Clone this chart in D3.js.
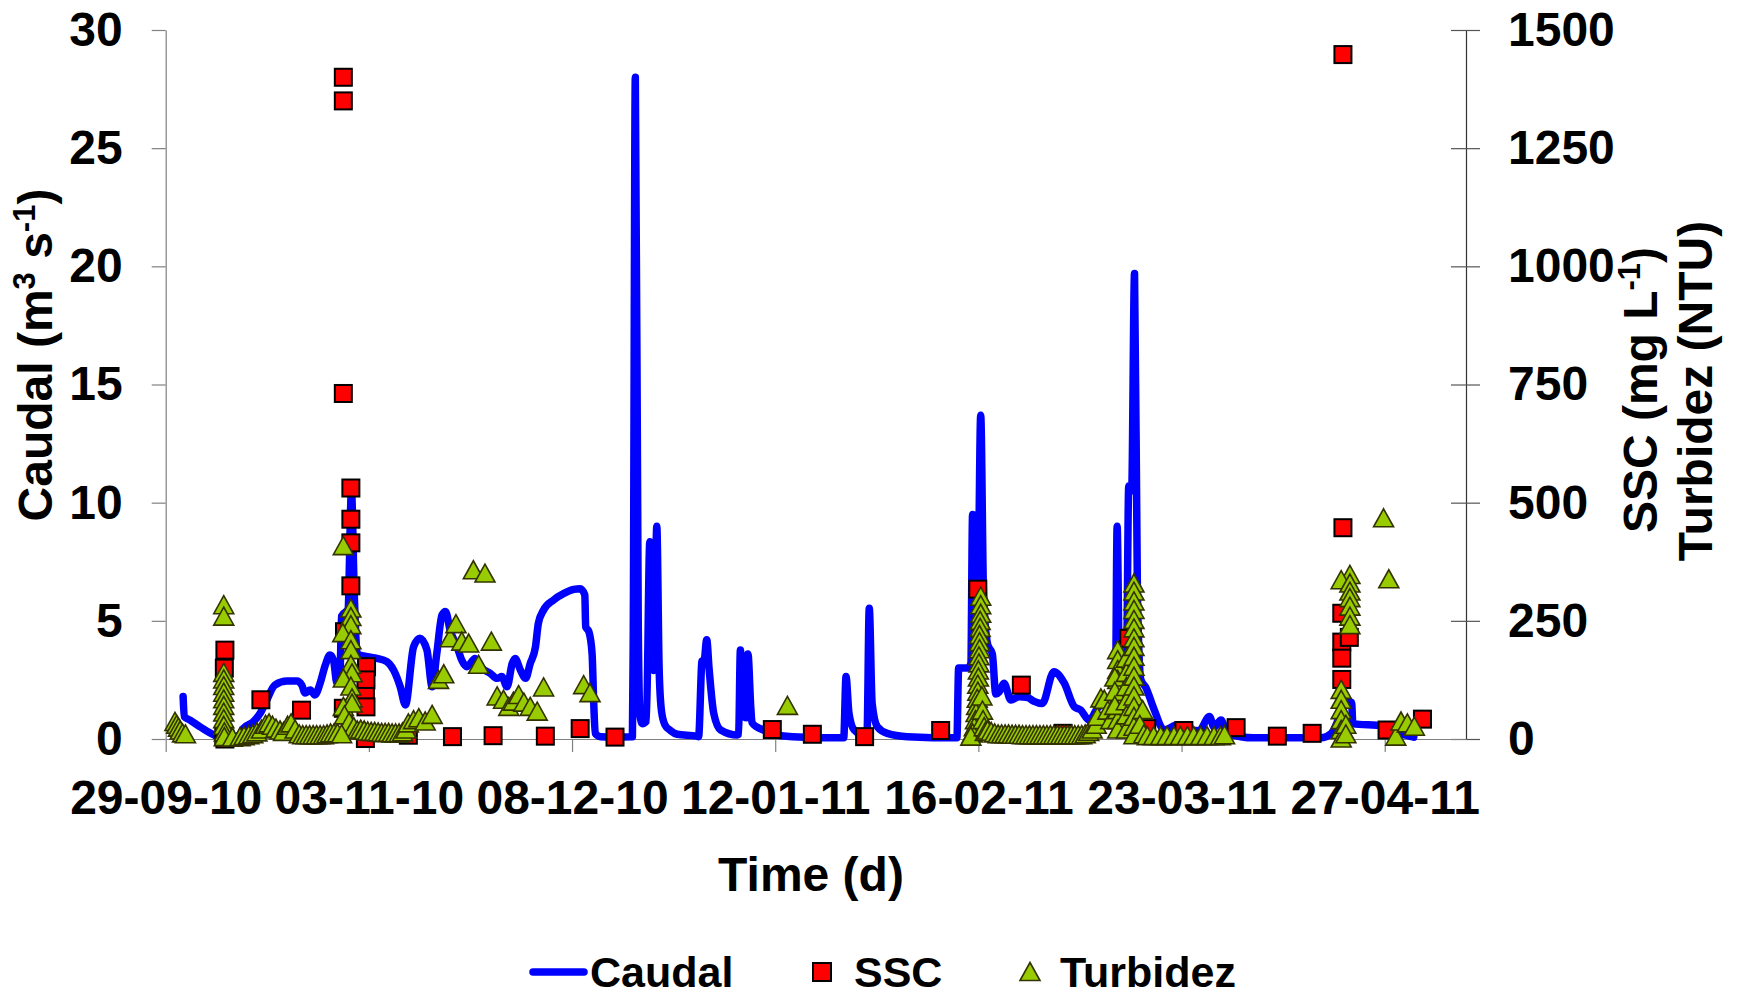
<!DOCTYPE html>
<html>
<head>
<meta charset="utf-8">
<script src="https://cdn.jsdelivr.net/npm/d3@7"></script>
<style>
  html, body { margin: 0; padding: 0; background: #ffffff; }
  svg text { font-family: Arial, 'Liberation Sans', sans-serif; font-weight: bold; fill: #000; }
</style>
</head>
<body>
<div id="chart"></div>
<script>
// Caudal, SSC and Turbidez chart (day 0 = 29-09-10)

const startDate = '29-09-10';
const endDate = '11-05-11';
const tickLabels = ['29-09-10', '03-11-10', '08-12-10', '12-01-11', '16-02-11', '23-03-11', '27-04-11'];
const caudalTicks = [0, 5, 10, 15, 20, 25, 30];
const sscTicks = [0, 250, 500, 750, 1000, 1250, 1500];

// Caudal (m3 s-1): [day, value]
const caudal = [
  [3.0, 1.8], [3.2, 0.95], [4.2, 0.8], [6.0, 0.5], [8.5, 0.15], [10.0, 0.05], [11.5, 0.05],
  [12.8, 0.2], [13.4, 0.45], [15.1, 0.73], [16.3, 1.1], [17.4, 1.65], [18.8, 2.28], [20.9, 2.45],
  [22.6, 2.45], [23.45, 2.28], [24.0, 1.95], [24.9, 2.07], [25.7, 1.86], [26.6, 2.36], [27.5, 3.13],
  [28.3, 3.55], [28.9, 3.34], [29.5, 2.36], [30.0, 2.5], [30.3, 5.2], [31.4, 5.5], [32.0, 10.5],
  [32.5, 6.0], [33.0, 3.6], [34.7, 3.48], [36.4, 3.41], [38.1, 3.27], [39.25, 2.92], [40.4, 2.21],
  [41.3, 1.44], [42.7, 3.9], [43.8, 4.26], [45.0, 3.77], [45.9, 2.21], [46.7, 3.62], [47.6, 5.25],
  [48.2, 5.4], [49.0, 4.6], [50.2, 3.9], [51.0, 3.34], [51.9, 3.06], [53.3, 3.41], [54.5, 2.99],
  [55.9, 2.78], [57.1, 2.57], [57.9, 2.64], [58.8, 2.21], [59.7, 3.2], [60.2, 3.41], [61.1, 2.92],
  [62.0, 2.57], [62.8, 3.2], [63.7, 3.9], [64.2, 4.9], [65.1, 5.46], [66.8, 5.88], [68.6, 6.16],
  [70.3, 6.33], [71.4, 6.36], [72.2, 6.1], [72.35, 4.75], [72.9, 4.54], [73.45, 3.62], [73.74, 1.5],
  [74.0, 0.24], [74.9, 0.1], [77.0, 0.08], [80.4, 0.1], [80.55, 4.7], [80.9, 28.0], [81.4, 5.0],
  [81.7, 1.0], [82.1, 0.65], [82.8, 0.75], [83.4, 8.35], [83.8, 3.0], [84.1, 2.9], [84.6, 9.0],
  [85.0, 3.0], [85.4, 1.2], [86.0, 0.6], [87.0, 0.35], [88.1, 0.2], [91.5, 0.12], [91.8, 0.1],
  [92.4, 3.3], [92.7, 3.2], [93.2, 4.2], [93.6, 3.0], [94.4, 1.1], [95.6, 0.38], [98.45, 0.17],
  [98.7, 0.2], [99.0, 3.77], [99.4, 1.0], [100.0, 0.9], [100.3, 3.6], [100.8, 1.3], [101.0, 0.7],
  [101.9, 0.5], [103.0, 0.38], [104.5, 0.2], [108.0, 0.1], [116.8, 0.05], [117.2, 2.64], [117.7, 1.1],
  [118.6, 0.38], [120.8, 0.1], [121.2, 5.53], [121.7, 1.5], [122.6, 0.52], [124.3, 0.24], [127.8, 0.1],
  [136.3, 0.05], [136.6, 3.0], [138.2, 3.0], [138.7, 3.2], [139.0, 9.5], [139.7, 9.3], [139.9, 6.0],
  [140.4, 13.7], [140.9, 6.0], [141.6, 4.0], [142.4, 3.6], [143.0, 1.9], [143.6, 2.0], [144.4, 2.36],
  [145.6, 1.65], [147.0, 1.79], [148.5, 1.75], [149.5, 1.6], [151.0, 1.5], [153.0, 2.85], [154.8, 2.36],
  [156.5, 1.37], [157.6, 1.23], [159.1, 0.8], [160.5, 1.3], [162.0, 1.6], [163.6, 1.8], [163.9, 9.0],
  [164.3, 3.0], [165.5, 3.0], [165.9, 10.7], [166.4, 10.5], [166.9, 19.7], [167.4, 6.0], [168.0, 2.5],
  [168.8, 2.2], [170.3, 1.23], [172.0, 0.38], [174.3, 0.6], [175.5, 0.4], [178.0, 0.35], [179.8, 0.95],
  [180.6, 0.5], [181.8, 0.8], [182.9, 0.24], [187.5, 0.05], [199.0, 0.05], [200.8, 0.24], [202.5, 1.1],
  [203.6, 1.6], [204.3, 1.55], [204.5, 0.65], [209.7, 0.55], [213.0, 0.2], [215.0, 0.08]
];

// SSC (mg L-1): [day, value]
const ssc = [
  [10.2, 188], [10.1, 150], [10.0, 5], [10.2, 0], [16.4, 83], [23.4, 61],
  [30.6, 1400], [30.6, 1350], [30.6, 731], [31.9, 531], [31.9, 465], [31.9, 415], [31.9, 324],
  [30.8, 227], [30.6, 65], [34.6, 153], [34.5, 125], [34.4, 90], [34.5, 68], [34.4, 1],
  [41.8, 8], [49.4, 5], [56.4, 7], [65.4, 6], [71.4, 22], [77.4, 4], [104.5, 20], [111.4, 10],
  [120.4, 5], [133.5, 18], [139.9, 317], [147.4, 114], [154.6, 12], [165.9, 213], [169.0, 22],
  [175.4, 18], [184.4, 24], [191.5, 6], [197.5, 12],
  [202.8, 1448], [202.8, 447], [202.6, 266], [202.6, 205], [203.9, 215], [202.6, 171], [202.6, 126],
  [210.4, 19], [216.5, 42]
];

// Turbidez (NTU): [day, value]
const turbidez = [
  [1.6, 36], [1.9, 30], [2.2, 24], [2.5, 18], [2.9, 12], [3.4, 10],
  [10.0, 283], [10.0, 259], [10.0, 140], [10.0, 126], [10.0, 112], [10.0, 98], [10.0, 84], [10.0, 70],
  [10.0, 56], [10.0, 42], [10.0, 28], [10.1, 14], [10.1, 4],
  [11.5, 3], [12.8, 4], [13.5, 6], [14.3, 8], [15.0, 10], [15.7, 14], [16.5, 20], [17.2, 30], [17.8, 33],
  [18.4, 28], [19.0, 22], [19.7, 18], [20.3, 15], [21.0, 28], [21.6, 33], [22.3, 20], [23.0, 10],
  [23.6, 8], [24.2, 8], [24.8, 8], [25.4, 8], [26.0, 8], [26.6, 8], [27.2, 8], [27.8, 10], [28.4, 12],
  [29.0, 12], [29.6, 12],
  [30.6, 408], [31.9, 276], [31.9, 258], [31.9, 241], [30.5, 224], [31.9, 209], [31.9, 188], [31.9, 157],
  [32.1, 139], [30.6, 128], [31.9, 111], [32.1, 86], [30.6, 68], [32.1, 75], [30.8, 50], [31.6, 35],
  [32.4, 25], [33.0, 18], [30.3, 10],
  [33.6, 20], [34.2, 18], [34.8, 16], [35.4, 15], [36.0, 15], [36.6, 14], [37.2, 13], [37.8, 13],
  [38.4, 13], [39.0, 12], [39.6, 12], [40.2, 12], [40.8, 14], [41.4, 20], [41.8, 33], [42.7, 40],
  [43.6, 44], [44.7, 37], [45.9, 51],
  [47.0, 125], [47.9, 137], [49.0, 213], [50.0, 243], [51.0, 206], [52.2, 202], [53.0, 357], [55.0, 350],
  [53.9, 157], [56.1, 206], [57.1, 90], [58.2, 83], [59.1, 68], [59.9, 79], [60.8, 93], [61.7, 77],
  [62.8, 68], [64.0, 58], [65.1, 109], [72.0, 114], [73.1, 97],
  [107.1, 70],
  [140.4, 301], [140.4, 283], [140.4, 265], [140.3, 250], [140.3, 235], [140.2, 220], [140.2, 205],
  [140.2, 190], [140.1, 175], [140.1, 160], [140.0, 145], [140.0, 130], [139.9, 115], [139.9, 100],
  [139.8, 85], [139.7, 70], [139.6, 55], [139.5, 40], [139.3, 25], [139.0, 12], [138.7, 5],
  [140.6, 90], [140.7, 60], [140.8, 40], [141.0, 25], [141.2, 15],
  [141.6, 18], [142.2, 15], [142.8, 12], [143.4, 10], [144.0, 10], [144.6, 10], [145.2, 10], [145.8, 9],
  [146.4, 9], [147.0, 9], [147.6, 8], [148.2, 8], [148.8, 8], [149.4, 8], [150.0, 8], [150.6, 8],
  [151.2, 8], [151.8, 8], [152.4, 8], [153.0, 8], [153.6, 8], [154.2, 8], [154.8, 8], [155.4, 8],
  [156.0, 8], [156.6, 8], [157.2, 8], [157.8, 8], [158.4, 10], [159.0, 15], [159.6, 20], [160.3, 30],
  [160.5, 47], [161.1, 86], [161.7, 83], [162.3, 60], [162.8, 40],
  [164.0, 188], [164.0, 167], [164.0, 146], [164.0, 125], [164.0, 104], [164.0, 83], [164.0, 61],
  [164.0, 40], [164.0, 20], [163.5, 130], [163.5, 100], [163.5, 70],
  [165.5, 170], [165.5, 140], [165.5, 110], [165.5, 80], [165.5, 50], [165.5, 20],
  [166.8, 329], [166.8, 312], [166.8, 291], [166.8, 273], [166.8, 252], [166.8, 234], [166.8, 213],
  [166.8, 195], [166.8, 174], [166.8, 153], [166.8, 132], [166.8, 111], [166.8, 90], [166.8, 68],
  [166.8, 47], [166.8, 26], [166.8, 8], [168.3, 61], [167.8, 30], [168.5, 10],
  [169.1, 6], [170.2, 6], [171.4, 6], [172.5, 6], [173.7, 6], [174.8, 6], [176.0, 6], [177.1, 6],
  [178.3, 6], [179.4, 6], [180.6, 6], [181.7, 6], [182.4, 8],
  [204.0, 347], [202.5, 336], [204.0, 329], [204.0, 312], [204.0, 298], [204.0, 280], [204.0, 259],
  [204.0, 241], [202.5, 104], [202.5, 83], [202.5, 61], [202.5, 40], [202.5, 19], [202.5, 1],
  [203.3, 30], [203.3, 10],
  [209.8, 467], [210.7, 338], [211.9, 5], [212.8, 37], [213.9, 33], [215.1, 26]
];

(function() {
  const W = 1742;
  const H = 996;
  const plot = { left: 165.7, right: 1466, top: 30, bottom: 739 };

  const lineColor = '#0000FF';
  const sscFill = '#FF0000';
  const turbFill = '#99CC00';
  const turbStroke = '#333300';
  const axisGray = '#808080';
  const fontSize = 48;
  const legendFont = 43;

  const parseDate = d3.utcParse('%d-%m-%y');
  const formatDate = d3.utcFormat('%d-%m-%y');
  const day0 = parseDate(startDate);
  const toDate = d => new Date(day0.getTime() + d * 86400000);

  const svg = d3.select('#chart')
    .append('svg')
    .attr('width', W)
    .attr('height', H);

  // Scales
  const x = d3.scaleUtc()
    .domain([day0, parseDate(endDate)])
    .range([plot.left, plot.right]);

  const yLeft = d3.scaleLinear()
    .domain([0, 30])
    .range([plot.bottom, plot.top]);

  const yRight = d3.scaleLinear()
    .domain([0, 1500])
    .range([plot.bottom, plot.top]);

  // Left axis
  const leftAxis = svg.append('g')
    .attr('transform', `translate(${plot.left},0)`)
    .call(d3.axisLeft(yLeft)
      .tickValues(caudalTicks)
      .tickFormat(d3.format('d'))
      .tickSizeInner(14)
      .tickSizeOuter(0)
      .tickPadding(29));

  // Right axis, ticks cross the line
  const rightAxis = svg.append('g')
    .attr('transform', `translate(${plot.right},0)`)
    .call(d3.axisRight(yRight)
      .tickValues(sscTicks)
      .tickFormat(d3.format('d'))
      .tickSizeInner(14)
      .tickSizeOuter(0)
      .tickPadding(28));
  rightAxis.selectAll('.tick line').attr('x1', -15);

  // Bottom axis
  const bottomAxis = svg.append('g')
    .attr('transform', `translate(0,${plot.bottom})`)
    .call(d3.axisBottom(x)
      .tickValues(tickLabels.map(parseDate))
      .tickFormat(formatDate)
      .tickSizeInner(13)
      .tickSizeOuter(0)
      .tickPadding(28));

  [leftAxis, bottomAxis].forEach(g => {
    g.select('.domain').attr('stroke', axisGray).attr('stroke-width', 1.2);
    g.selectAll('.tick line').attr('stroke', axisGray).attr('stroke-width', 1.2);
  });
  rightAxis.select('.domain').attr('stroke', '#333').attr('stroke-width', 1.2);
  rightAxis.selectAll('.tick line').attr('stroke', '#555').attr('stroke-width', 1.2);

  svg.selectAll('.tick text')
    .attr('fill', '#000')
    .style('font-size', fontSize + 'px')
    .style('font-weight', 'bold')
    .style('font-family', "Arial, 'Liberation Sans', sans-serif");

  // Caudal line
  const line = d3.line()
    .x(d => x(toDate(d[0])))
    .y(d => yLeft(d[1]))
    .curve(d3.curveMonotoneX);

  svg.append('path')
    .datum(caudal)
    .attr('d', line)
    .attr('fill', 'none')
    .attr('stroke', lineColor)
    .attr('stroke-width', 7.5)
    .attr('stroke-linejoin', 'round')
    .attr('stroke-linecap', 'round');

  // SSC squares
  const sq = 17;
  svg.selectAll('.ssc')
    .data(ssc)
    .enter()
    .append('rect')
    .attr('class', 'ssc')
    .attr('x', d => x(toDate(d[0])) - sq / 2)
    .attr('y', d => yRight(d[1]) - sq / 2)
    .attr('width', sq)
    .attr('height', sq)
    .attr('fill', sscFill)
    .attr('stroke', '#000')
    .attr('stroke-width', 2);

  // Turbidez triangles
  const tri = 'M0,-9.5L10,8.5L-10,8.5Z';
  svg.selectAll('.turb')
    .data(turbidez)
    .enter()
    .append('path')
    .attr('class', 'turb')
    .attr('d', tri)
    .attr('transform', d => `translate(${x(toDate(d[0]))},${yRight(d[1])})`)
    .attr('fill', turbFill)
    .attr('stroke', turbStroke)
    .attr('stroke-width', 1.6)
    .attr('stroke-linejoin', 'miter');

  // Axis titles
  const leftTitle = svg.append('text')
    .attr('transform', 'translate(52,355) rotate(-90)')
    .attr('text-anchor', 'middle')
    .style('font-size', fontSize + 'px');
  leftTitle.append('tspan').text('Caudal (m');
  leftTitle.append('tspan').attr('dy', -17).style('font-size', '31px').text('3');
  leftTitle.append('tspan').attr('dy', 17).text(' s');
  leftTitle.append('tspan').attr('dy', -17).style('font-size', '31px').text('-1');
  leftTitle.append('tspan').attr('dy', 17).text(')');

  const sscTitle = svg.append('text')
    .attr('transform', 'translate(1657,390) rotate(-90)')
    .attr('text-anchor', 'middle')
    .style('font-size', fontSize + 'px');
  sscTitle.append('tspan').text('SSC (mg L');
  sscTitle.append('tspan').attr('dy', -17).style('font-size', '31px').text('-1');
  sscTitle.append('tspan').attr('dy', 17).text(')');

  svg.append('text')
    .attr('transform', 'translate(1712,391) rotate(-90)')
    .attr('text-anchor', 'middle')
    .style('font-size', fontSize + 'px')
    .text('Turbidez (NTU)');

  svg.append('text')
    .attr('x', 811)
    .attr('y', 891)
    .attr('text-anchor', 'middle')
    .style('font-size', fontSize + 'px')
    .text('Time (d)');

  // Legend (kept just inside the bottom edge)
  const legendY = 972;
  const legend = svg.append('g');

  legend.append('line')
    .attr('x1', 533).attr('x2', 584)
    .attr('y1', legendY).attr('y2', legendY)
    .attr('stroke', lineColor)
    .attr('stroke-width', 7.5)
    .attr('stroke-linecap', 'round');
  legend.append('text')
    .attr('x', 590).attr('y', legendY + 15)
    .style('font-size', legendFont + 'px')
    .text('Caudal');

  legend.append('rect')
    .attr('x', 822 - 9).attr('y', legendY - 9)
    .attr('width', 18).attr('height', 18)
    .attr('fill', sscFill)
    .attr('stroke', '#000')
    .attr('stroke-width', 2);
  legend.append('text')
    .attr('x', 854).attr('y', legendY + 15)
    .style('font-size', legendFont + 'px')
    .text('SSC');

  legend.append('path')
    .attr('d', tri)
    .attr('transform', `translate(1030,${legendY})`)
    .attr('fill', turbFill)
    .attr('stroke', turbStroke)
    .attr('stroke-width', 1.6);
  legend.append('text')
    .attr('x', 1060).attr('y', legendY + 15)
    .style('font-size', legendFont + 'px')
    .text('Turbidez');
})();
</script>
</body>
</html>
